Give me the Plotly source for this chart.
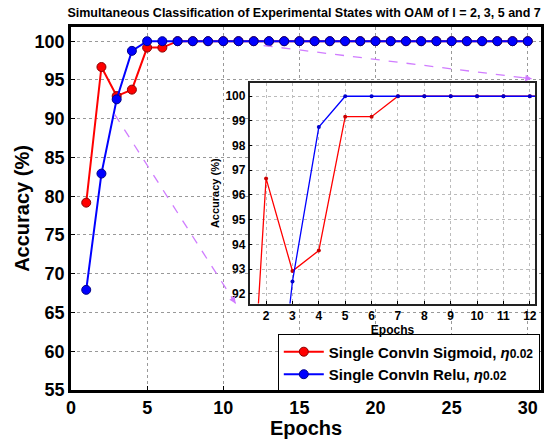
import plotly.graph_objects as go

epochs = list(range(1, 31))
sigmoid_acc = [79.17, 96.67, 92.92, 93.75, 99.17, 99.17] + [100.0] * 24
relu_acc = [67.92, 82.92, 92.50, 98.75] + [100.0] * 26

main_xticks = [0, 5, 10, 15, 20, 25, 30]
main_yticks = [55, 60, 65, 70, 75, 80, 85, 90, 95, 100]
inset_xticks = list(range(2, 13))
inset_yticks = list(range(92, 101))

title_text = "Simultaneous Classification of Experimental States with OAM of l = 2, 3, 5 and 7"
eta = "<i>η</i><span style='font-size:12px'>0.02</span>"
sig_name = "Single ConvIn Sigmoid, " + eta
relu_name = "Single ConvIn Relu, " + eta

FONT = "Liberation Sans, Arial, sans-serif"
RED = "#ff0000"
BLUE = "#0000ff"
ARROW = "#d07cff"

fig = go.Figure()

# main traces
fig.add_trace(go.Scatter(x=epochs, y=sigmoid_acc, mode="lines+markers", name=sig_name,
                         line=dict(color=RED, width=2),
                         marker=dict(color=RED, size=9, line=dict(color="#8b0000", width=1)),
                         xaxis="x", yaxis="y"))
fig.add_trace(go.Scatter(x=epochs, y=relu_acc, mode="lines+markers", name=relu_name,
                         line=dict(color=BLUE, width=2),
                         marker=dict(color=BLUE, size=9, line=dict(color="#00008b", width=1)),
                         xaxis="x", yaxis="y"))
# inset traces
fig.add_trace(go.Scatter(x=epochs, y=sigmoid_acc, mode="lines+markers", showlegend=False,
                         line=dict(color=RED, width=1.3),
                         marker=dict(color="#cc0000", size=4),
                         xaxis="x2", yaxis="y2"))
fig.add_trace(go.Scatter(x=epochs, y=relu_acc, mode="lines+markers", showlegend=False,
                         line=dict(color=BLUE, width=1.3),
                         marker=dict(color="#0000cc", size=4),
                         xaxis="x2", yaxis="y2"))

bold = dict(family=FONT, weight="bold", color="black")

fig.update_layout(
    width=547, height=439,
    margin=dict(l=71, r=3, t=27, b=46),
    paper_bgcolor="white", plot_bgcolor="white",
    title=dict(text=title_text, x=0.556, xanchor="center", y=1 - 13 / 439, yanchor="middle",
               font=dict(size=12.5, **bold)),
    showlegend=True,
    legend=dict(x=0.44, y=0.153, xanchor="left", yanchor="top",
                bordercolor="black", borderwidth=1, bgcolor="white",
                font=dict(size=15, **bold), tracegroupgap=0, itemwidth=40),
    xaxis=dict(domain=[0, 1], range=[0, 30.87], tickvals=main_xticks,
               showline=True, linecolor="black", linewidth=2.5, mirror=True,
               ticks="inside", ticklen=4, tickcolor="black",
               showgrid=True, gridcolor="#999999", griddash="dot", gridwidth=1,
               zeroline=False, tickfont=dict(size=18, **bold),
               title=dict(text="Epochs", font=dict(size=20, **bold), standoff=4)),
    yaxis=dict(domain=[0, 1], range=[55, 101.83], tickvals=main_yticks,
               showline=True, linecolor="black", linewidth=2.5, mirror=True,
               ticks="inside", ticklen=4, tickcolor="black",
               showgrid=True, gridcolor="#999999", griddash="dot", gridwidth=1,
               zeroline=False, tickfont=dict(size=18, **bold),
               title=dict(text="Accuracy (%)", font=dict(size=20, **bold), standoff=0)),
    xaxis2=dict(domain=[0.380, 0.988], range=[1.375, 12.21], tickvals=inset_xticks,
                anchor="y2",
                showline=True, linecolor="#222222", linewidth=1.5, mirror=True,
                ticks="inside", ticklen=3, tickcolor="black",
                showgrid=True, gridcolor="#bbbbbb", griddash="dot", gridwidth=1,
                zeroline=False, tickfont=dict(size=12, **bold),
                title=dict(text="Epochs", font=dict(size=12, **bold), standoff=2)),
    yaxis2=dict(domain=[0.238, 0.846], range=[91.6, 100.54], tickvals=inset_yticks,
                anchor="x2",
                showline=True, linecolor="#222222", linewidth=1.5, mirror=True,
                ticks="inside", ticklen=3, tickcolor="black",
                showgrid=True, gridcolor="#bbbbbb", griddash="dot", gridwidth=1,
                zeroline=False, tickfont=dict(size=12, **bold),
                title=dict(text="Accuracy (%)", font=dict(size=11, **bold), standoff=4)),
)

# dashed zoom indicator lines (main-axes data coordinates)
arrows = [((12.65, 99.44), (30.27, 95.15)), ((2.87, 90.55), (10.81, 66.16))]
for (x0, y0), (x1, y1) in arrows:
    fig.add_shape(type="line", xref="x", yref="y", x0=x0, y0=y0, x1=x1, y1=y1,
                  line=dict(color=ARROW, width=1.3, dash="dash"))
    fig.add_annotation(xref="x", yref="y", axref="x", ayref="y", x=x1, y=y1,
                       ax=x1 - (x1 - x0) * 0.04, ay=y1 - (y1 - y0) * 0.04,
                       text="", showarrow=True, arrowhead=2, arrowsize=1,
                       arrowwidth=1.3, arrowcolor=ARROW)

fig.write_html("out.html", config={"displayModeBar": False},
               post_script="document.body.style.margin='0px';document.body.style.padding='0px';")
